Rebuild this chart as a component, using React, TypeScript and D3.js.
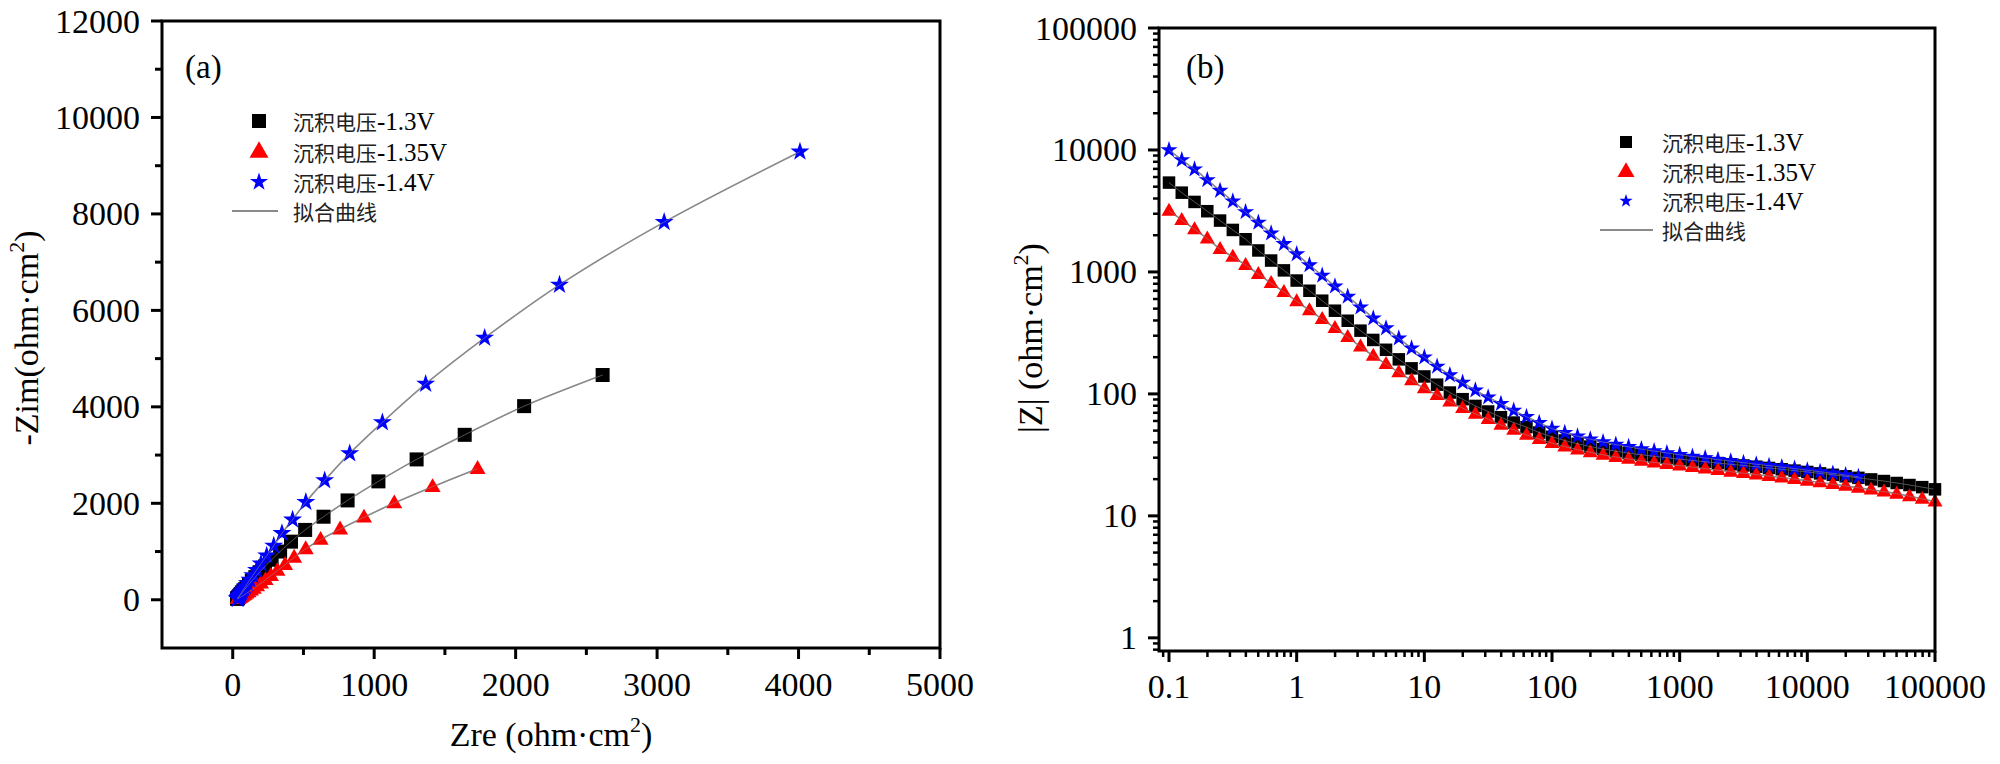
import React from 'react';
import * as d3 from 'd3';

// Nyquist data (a)
const nyqBlackRe = [2615, 2060, 1640, 1300, 1030, 812, 642, 512, 412, 335, 275, 228, 190, 160, 135, 115, 99, 86, 75, 66, 59, 53, 48, 44, 41, 38, 36, 34, 32, 31];
const nyqBlackIm = [4660, 4015, 3420, 2910, 2455, 2060, 1722, 1448, 1205, 1000, 830, 690, 570, 470, 390, 322, 265, 218, 180, 148, 122, 100, 82, 67, 55, 45, 37, 30, 25, 21];
const nyqRedRe = [1731, 1413, 1142, 928, 759, 621, 516, 434, 370, 316, 270, 232, 200, 172, 149, 129, 112, 98, 86, 76, 67, 60, 54, 49, 45, 41, 38, 35];
const nyqRedIm = [2718, 2344, 2005, 1710, 1463, 1248, 1055, 878, 728, 605, 500, 415, 345, 285, 236, 196, 162, 134, 111, 92, 76, 63, 52, 43, 36, 30, 25, 21];
const nyqBlueRe = [4010, 3050, 2310, 1781, 1364, 1058, 827, 650, 517, 423, 348, 290, 240, 200, 168, 142, 121, 104, 90, 79, 70, 63, 57, 52, 48, 45, 42, 40, 38, 36, 35, 34];
const nyqBlueIm = [9290, 7830, 6530, 5430, 4475, 3678, 3035, 2475, 2025, 1660, 1380, 1120, 915, 750, 615, 505, 415, 340, 280, 230, 190, 155, 128, 105, 86, 70, 57, 46, 37, 30, 24, 20];

// Bode data (b)
const freqs = [
  0.1, 0.1259, 0.1585, 0.1995, 0.2512, 0.3162, 0.3981, 0.5012, 0.631, 0.7943,
  1, 1.259, 1.585, 1.995, 2.512, 3.162, 3.981, 5.012, 6.31, 7.943,
  10, 12.59, 15.85, 19.95, 25.12, 31.62, 39.81, 50.12, 63.1, 79.43,
  100, 125.9, 158.5, 199.5, 251.2, 316.2, 398.1, 501.2, 631, 794.3,
  1000, 1259, 1585, 1995, 2512, 3162, 3981, 5012, 6310, 7943,
  10000, 12589, 15849, 19953, 25119, 31623, 39811, 50119, 63096, 79433, 100000,
];
const bodeBlack = [
  5400, 4467, 3750, 3147, 2637, 2210, 1853, 1500, 1240, 1030,
  850, 701, 581, 481, 398, 330, 277, 230, 192, 162,
  139, 119, 102.6, 90.5, 79.7, 71.7, 64.4, 58.2, 53.4, 48.2,
  44.5, 41.5, 39.0, 37.0, 35.3, 33.9, 32.7, 31.7, 30.8, 30.0,
  29.2, 28.5, 27.8, 27.1, 26.5, 25.9, 25.3, 24.7, 24.1, 23.5,
  22.9, 22.3, 21.7, 21.1, 20.5, 19.9, 19.3, 18.6, 17.9, 17.2, 16.5,
];
const bodeRed = [
  3177, 2667, 2238, 1876, 1540, 1330, 1140, 960, 810, 685,
  575, 485, 410, 346, 292, 244, 205, 176, 150, 129,
  111, 98, 86.5, 76.4, 68.6, 62.1, 55.7, 50.7, 46.1, 42.6,
  39.5, 37.0, 34.9, 33.2, 31.7, 30.4, 29.3, 28.3, 27.4, 26.6,
  25.8, 25.1, 24.4, 23.7, 23.0, 22.4, 21.8, 21.2, 20.6, 20.0,
  19.4, 18.8, 18.2, 17.6, 17.0, 16.4, 15.8, 15.2, 14.5, 13.8, 13.1,
];
const bodeBlue = [
  10000, 8280, 6950, 5680, 4640, 3800, 3105, 2540, 2075, 1698,
  1400, 1138, 935, 762, 628, 514, 417, 346, 286, 237,
  200, 168, 143, 124, 107, 94, 83, 73, 65, 58,
  52, 48, 45, 42.5, 40.3, 38.4, 36.8, 35.3, 34.0, 32.8,
  31.7, 30.7, 29.8, 28.9, 28.1, 27.3, 26.5, 25.8, 25.1, 24.4,
  23.7, 23.0, 22.3, 21.6, 20.9,
];

const seriesPrefix = '沉积电压';
const seriesVolts = ['-1.3V', '-1.35V', '-1.4V'];
const fitName = '拟合曲线';
const xTicksA = [0, 1000, 2000, 3000, 4000, 5000];
const yTicksA = [0, 2000, 4000, 6000, 8000, 10000, 12000];
const xTicksB = [0.1, 1, 10, 100, 1000, 10000, 100000];
const yTicksB = [1, 10, 100, 1000, 10000, 100000];

const FONT = "'Liberation Serif', 'Noto Sans CJK SC', serif";
const CJK = "'Noto Sans CJK SC', sans-serif";
const FIT = '#8a8a8a';

type Pt = [number, number];

const Marker = ({ kind, x, y, s }: { kind: number; x: number; y: number; s: number }) => {
  if (kind === 0) return <rect x={x - s / 2} y={y - s / 2} width={s} height={s} fill="#000" />;
  if (kind === 1) {
    const h = (s * Math.sqrt(3)) / 2;
    return <path d={`M${x},${y - h * 0.62}L${x + s / 2},${y + h * 0.38}L${x - s / 2},${y + h * 0.38}Z`} fill="#f00" />;
  }
  const r = s / 2;
  const star = d3.symbol(d3.symbolStar, (r * r) / 0.8908130915292852)();
  return <path d={star || ''} transform={`translate(${x},${y})`} fill="#0000ff" />;
};

const LegendLabel = ({ x, y, volts }: { x: number; y: number; volts: string }) => (
  <text x={x} y={y} dominantBaseline="central">
    <tspan fontFamily={CJK} fontSize={21} fill="#222">{seriesPrefix}</tspan>
    <tspan fontFamily={FONT} fontSize={25}>{volts}</tspan>
  </text>
);

const App = () => {
  // panel a
  const xa = d3.scaleLinear().domain([-500, 5000]).range([162, 940]);
  const ya = d3.scaleLinear().domain([-1000, 12000]).range([648, 21]);
  // panel b
  const xb = d3.scaleLog().domain([0.0835, 100000]).range([1159, 1935]);
  const yb = d3.scaleLog().domain([0.78, 100000]).range([651, 28]);

  const nyq: Pt[][] = [
    nyqBlackRe.map((v, i) => [v, nyqBlackIm[i]] as Pt),
    nyqRedRe.map((v, i) => [v, nyqRedIm[i]] as Pt),
    nyqBlueRe.map((v, i) => [v, nyqBlueIm[i]] as Pt),
  ];
  const bode: Pt[][] = [bodeBlack, bodeRed, bodeBlue].map((s) => s.map((v, i) => [freqs[i], v] as Pt));

  const lineA = d3.line<Pt>().x((d) => xa(d[0])).y((d) => ya(d[1])).curve(d3.curveCatmullRom);
  const lineB = d3.line<Pt>().x((d) => xb(d[0])).y((d) => yb(d[1])).curve(d3.curveCatmullRom);

  const minorA = d3.range(500, 5000, 1000);
  const minorAy = d3.range(1000, 12000, 2000);
  const minorBx: number[] = [];
  const minorBy: number[] = [];
  for (let e = -2; e < 5; e++) {
    for (let m = 2; m <= 9; m++) {
      const v = m * Math.pow(10, e);
      if (v > 0.0835 && v < 100000) minorBx.push(v);
      if (v > 0.78 && v < 100000) minorBy.push(v);
    }
  }

  const sizesA = [14, 16, 20];
  const sizesB = [12.5, 15, 18];

  return (
    <svg width={2000} height={764} style={{ position: 'absolute', left: 0, top: 0, background: '#fff' }} fontFamily={FONT}>
      <rect width={2000} height={764} fill="#fff" />

      {/* ---------- panel (a) ---------- */}
      {nyq.map((s, k) => (
        <path key={'la' + k} d={lineA(s) || ''} fill="none" stroke={FIT} strokeWidth={1.6} />
      ))}
      {nyq.map((s, k) =>
        s.map((d, i) => <Marker key={`ma${k}-${i}`} kind={k} x={xa(d[0])} y={ya(d[1])} s={sizesA[k]} />)
      )}
      {nyq.map((s, k) => (
        <path key={'la2' + k} d={lineA(s) || ''} fill="none" stroke={FIT} strokeWidth={1} opacity={0.6} />
      ))}
      <rect x={162} y={21} width={778} height={627} fill="none" stroke="#000" strokeWidth={3} />
      {xTicksA.map((t) => (
        <g key={'xa' + t}>
          <line x1={xa(t)} x2={xa(t)} y1={648} y2={659} stroke="#000" strokeWidth={3} />
          <text x={xa(t)} y={696} fontSize={34} textAnchor="middle">{t}</text>
        </g>
      ))}
      {minorA.map((t) => (
        <line key={'xam' + t} x1={xa(t)} x2={xa(t)} y1={648} y2={655} stroke="#000" strokeWidth={3} />
      ))}
      {yTicksA.map((t) => (
        <g key={'ya' + t}>
          <line x1={151} x2={162} y1={ya(t)} y2={ya(t)} stroke="#000" strokeWidth={3} />
          <text x={140} y={ya(t)} fontSize={34} textAnchor="end" dominantBaseline="central">{t}</text>
        </g>
      ))}
      {minorAy.map((t) => (
        <line key={'yam' + t} x1={155} x2={162} y1={ya(t)} y2={ya(t)} stroke="#000" strokeWidth={3} />
      ))}
      <text x={551} y={746} fontSize={34} textAnchor="middle">
        Zre (ohm·cm<tspan fontSize={22} dy={-14}>2</tspan><tspan dy={14}>)</tspan>
      </text>
      <text transform="translate(38,338) rotate(-90)" fontSize={34} textAnchor="middle">
        -Zim(ohm·cm<tspan fontSize={22} dy={-14}>2</tspan><tspan dy={14}>)</tspan>
      </text>
      <text x={185} y={78} fontSize={33}>(a)</text>
      {seriesVolts.map((v, k) => (
        <g key={'lga' + k}>
          <Marker kind={k} x={259} y={121 + k * 30.5} s={[14, 19, 19][k]} />
          <LegendLabel x={293} y={121 + k * 30.5} volts={v} />
        </g>
      ))}
      <line x1={232} x2={278} y1={211} y2={211} stroke={FIT} strokeWidth={2} />
      <text x={293} y={211} fontSize={21} fontFamily={CJK} fill="#222" dominantBaseline="central">{fitName}</text>

      {/* ---------- panel (b) ---------- */}
      {bode.map((s, k) => (
        <path key={'lb' + k} d={lineB(s) || ''} fill="none" stroke={FIT} strokeWidth={1.6} />
      ))}
      {bode.map((s, k) =>
        s.map((d, i) => <Marker key={`mb${k}-${i}`} kind={k} x={xb(d[0])} y={yb(d[1])} s={sizesB[k]} />)
      )}
      {bode.map((s, k) => (
        <path key={'lb2' + k} d={lineB(s) || ''} fill="none" stroke={FIT} strokeWidth={1} opacity={0.6} />
      ))}
      <rect x={1159} y={28} width={776} height={623} fill="none" stroke="#000" strokeWidth={3} />
      {xTicksB.map((t) => (
        <g key={'xb' + t}>
          <line x1={xb(t)} x2={xb(t)} y1={651} y2={662} stroke="#000" strokeWidth={3} />
          <text x={xb(t)} y={698} fontSize={34} textAnchor="middle">{String(t)}</text>
        </g>
      ))}
      {minorBx.map((t) => (
        <line key={'xbm' + t} x1={xb(t)} x2={xb(t)} y1={651} y2={657} stroke="#000" strokeWidth={2.5} />
      ))}
      {yTicksB.map((t) => (
        <g key={'yb' + t}>
          <line x1={1148} x2={1159} y1={yb(t)} y2={yb(t)} stroke="#000" strokeWidth={3} />
          <text x={1137} y={yb(t)} fontSize={34} textAnchor="end" dominantBaseline="central">{String(t)}</text>
        </g>
      ))}
      {minorBy.map((t) => (
        <line key={'ybm' + t} x1={1153} x2={1159} y1={yb(t)} y2={yb(t)} stroke="#000" strokeWidth={2.5} />
      ))}
      <text transform="translate(1042,338) rotate(-90)" fontSize={34} textAnchor="middle">
        |Z| (ohm·cm<tspan fontSize={22} dy={-14}>2</tspan><tspan dy={14}>)</tspan>
      </text>
      <text x={1186} y={78} fontSize={33}>(b)</text>
      {seriesVolts.map((v, k) => (
        <g key={'lgb' + k}>
          <Marker kind={k} x={1626} y={142 + k * 29.5} s={[12, 17, 14][k]} />
          <LegendLabel x={1662} y={142 + k * 29.5} volts={v} />
        </g>
      ))}
      <line x1={1600} x2={1653} y1={230} y2={230} stroke={FIT} strokeWidth={2} />
      <text x={1662} y={230} fontSize={21} fontFamily={CJK} fill="#222" dominantBaseline="central">{fitName}</text>
    </svg>
  );
};

export default App;
